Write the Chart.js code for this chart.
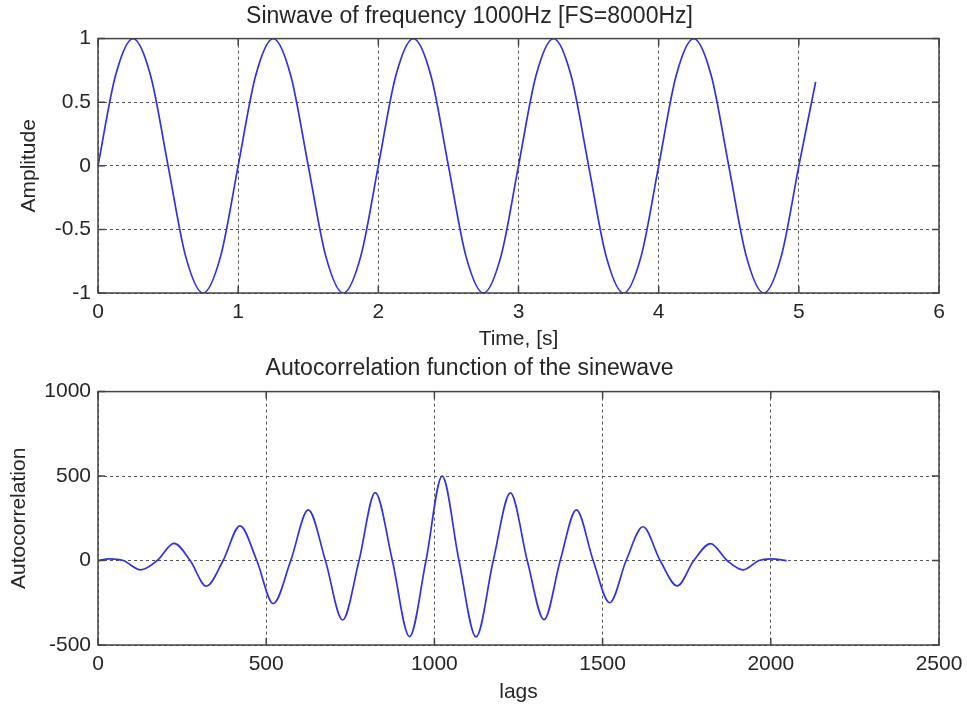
<!DOCTYPE html>
<html lang="en">
<head>
    <meta charset="UTF-8">
    <script src="https://cdn.jsdelivr.net/npm/chart.js"></script>
    <title>Sinewave and autocorrelation</title>
    <style>
        body { margin: 0; background: #fff; }
        canvas { display: block; }
    </style>
</head>
<body>
    <canvas id="sineChart" width="967" height="352"></canvas>
    <canvas id="acfChart" width="967" height="353"></canvas>
<script>
// top plot: sinewave samples
const timeVals = [0, 0.125, 0.25, 0.375, 0.5, 0.625, 0.75, 0.875,
    1, 1.125, 1.25, 1.375, 1.5, 1.625, 1.75, 1.875,
    2, 2.125, 2.25, 2.375, 2.5, 2.625, 2.75, 2.875,
    3, 3.125, 3.25, 3.375, 3.5, 3.625, 3.75, 3.875,
    4, 4.125, 4.25, 4.375, 4.5, 4.625, 4.75, 4.875,
    5, 5.12];
const ampVals = [0, 0.71, 1, 0.71, 0, -0.71, -1, -0.71,
    0, 0.71, 1, 0.71, 0, -0.71, -1, -0.71,
    0, 0.71, 1, 0.71, 0, -0.71, -1, -0.71,
    0, 0.71, 1, 0.71, 0, -0.71, -1, -0.71,
    0, 0.71, 1, 0.71, 0, -0.71, -1, -0.71,
    0, 0.66];

// bottom plot: autocorrelation (peaks, troughs, zero crossings)
const lagVals = [0, 33, 75, 127, 176, 226, 274, 322, 372, 422, 472, 521, 573,
    625, 676, 727, 776, 824, 875, 926, 975, 1023, 1073, 1124, 1175, 1226,
    1276, 1326, 1374, 1422, 1472, 1521, 1570, 1620, 1671, 1722, 1771, 1821,
    1870, 1918, 1965, 2000, 2047];
const acfVals = [0, 10, 0, -55, 0, 102, 0, -152, 0, 205, 0, -255, 0,
    300, 0, -352, 0, 402, 0, -450, 0, 500, 0, -452, 0, 400,
    0, -350, 0, 300, 0, -250, 0, 200, 0, -150, 0, 100,
    0, -55, 0, 10, 0];

const FONT = "'Liberation Sans', Arial, sans-serif";
const LINE = '#3232dc';
const INK = '#262626';

// box round the axes plus small inward tick marks (matlab look)
const boxPlugin = {
    id: 'box',
    afterDraw(chart) {
        const ctx = chart.ctx;
        const a = chart.chartArea;
        const xs = chart.scales.x, ys = chart.scales.y;
        ctx.save();
        ctx.strokeStyle = '#444';
        ctx.lineWidth = 1.5;
        ctx.strokeRect(a.left, a.top, a.right - a.left, a.bottom - a.top);
        ctx.beginPath();
        xs.ticks.forEach(t => {
            const p = xs.getPixelForValue(t.value);
            ctx.moveTo(p, a.bottom); ctx.lineTo(p, a.bottom - 7);
            ctx.moveTo(p, a.top); ctx.lineTo(p, a.top + 7);
        });
        ys.ticks.forEach(t => {
            const p = ys.getPixelForValue(t.value);
            ctx.moveTo(a.left, p); ctx.lineTo(a.left + 7, p);
            ctx.moveTo(a.right, p); ctx.lineTo(a.right - 7, p);
        });
        ctx.stroke();
        ctx.restore();
    }
};

function makeChart(id, opts) {
    const pts = opts.xs.map((x, i) => ({x: x, y: opts.ys[i]}));
    return new Chart(document.getElementById(id), {
        type: 'line',
        data: {
            datasets: [{
                data: pts,
                borderColor: LINE,
                borderWidth: 1.7,
                pointRadius: 0,
                fill: false,
                cubicInterpolationMode: 'monotone'
            }]
        },
        options: {
            responsive: false,
            animation: false,
            devicePixelRatio: 1,
            layout: {padding: {left: 0, right: 28, top: 0, bottom: opts.padBottom}},
            plugins: {
                legend: {display: false},
                tooltip: {enabled: false},
                title: {
                    display: true,
                    text: opts.title,
                    color: INK,
                    font: {family: FONT, size: 23, weight: 'normal'},
                    padding: {top: 3, bottom: opts.titleGap}
                }
            },
            scales: {
                x: {
                    type: 'linear',
                    min: opts.xMin, max: opts.xMax,
                    afterFit: s => {
                        s.height = opts.xAxisH;
                        s.paddingLeft = 0;
                        s.paddingRight = 0;
                    },
                    ticks: {
                        stepSize: opts.xStep,
                        padding: 7,
                        color: INK,
                        font: {family: FONT, size: 21},
                        callback: v => String(v)
                    },
                    grid: {color: '#555', lineWidth: 1, drawTicks: false},
                    border: {display: false, dash: [3, 3]},
                    title: {
                        display: true,
                        text: opts.xLabel,
                        color: INK,
                        font: {family: FONT, size: 21},
                        padding: 0
                    }
                },
                y: {
                    min: opts.yMin, max: opts.yMax,
                    afterFit: s => { s.width = 98; },
                    ticks: {
                        stepSize: opts.yStep,
                        padding: 7,
                        color: INK,
                        font: {family: FONT, size: 21},
                        callback: v => String(v)
                    },
                    grid: {color: '#555', lineWidth: 1, drawTicks: false},
                    border: {display: false, dash: [3, 3]},
                    title: {
                        display: true,
                        text: opts.yLabel,
                        color: INK,
                        font: {family: FONT, size: 21},
                        padding: {top: opts.yTitlePad}
                    }
                }
            }
        },
        plugins: [boxPlugin]
    });
}

makeChart('sineChart', {
    xs: timeVals, ys: ampVals,
    title: 'Sinwave of frequency 1000Hz [FS=8000Hz]',
    xLabel: 'Time, [s]', yLabel: 'Amplitude',
    xMin: 0, xMax: 6, xStep: 1,
    yMin: -1, yMax: 1, yStep: 0.5,
    titleGap: 8, xAxisH: 59, padBottom: 0, yTitlePad: 17
});

makeChart('acfChart', {
    xs: lagVals, ys: acfVals,
    title: 'Autocorrelation function of the sinewave',
    xLabel: 'lags', yLabel: 'Autocorrelation',
    xMin: 0, xMax: 2500, xStep: 500,
    yMin: -500, yMax: 1000, yStep: 500,
    titleGap: 9, xAxisH: 60, padBottom: 0, yTitlePad: 7
});
</script>
</body>
</html>
